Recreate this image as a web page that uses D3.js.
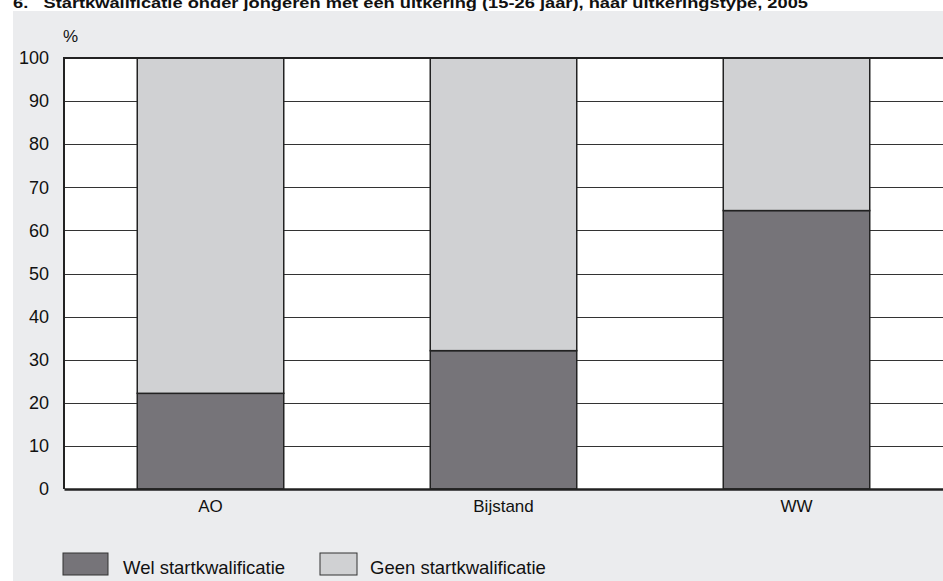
<!DOCTYPE html>
<html><head><meta charset="utf-8">
<script src="https://cdn.jsdelivr.net/npm/d3@7"></script>
<style>html,body{margin:0;padding:0;background:#fff;}svg{display:block;}</style>
</head><body>
<svg id="c" width="943" height="581"></svg>
<script>
const categories = ["AO", "Bijstand", "WW"];
const welValues = [22.2, 32.1, 64.6];
const geenValues = [77.8, 67.9, 35.4];
const yTicks = [0, 10, 20, 30, 40, 50, 60, 70, 80, 90, 100];
const seriesNames = ["Wel startkwalificatie", "Geen startkwalificatie"];
const seriesColors = ["#767479", "#d0d1d3"];
const titleText = "6.\u00a0\u00a0\u00a0Startkwalificatie onder jongeren met een uitkering (15-26 jaar), naar uitkeringstype, 2005";

(function () {
const svg = d3.select("#c");
const font = "Arial, 'Liberation Sans', Helvetica, sans-serif";

// background
svg.append("rect").attr("x", 13).attr("y", 11).attr("width", 930).attr("height", 570).attr("fill", "#ebecee");

// title (cut off at top, as in the reference)
svg.append("text").attr("x", 13).attr("y", 7.5)
  .attr("font-family", font).attr("font-weight", "bold").attr("font-size", 15)
  .attr("textLength", 795).attr("lengthAdjust", "spacingAndGlyphs")
  .attr("fill", "#111").text(titleText);

const pL = 64, pR = 943, pT = 58, pB = 489;
const x = d3.scaleBand().domain(categories).range([pL, pR]).paddingInner(0.5).paddingOuter(0.25);
const y = d3.scaleLinear().domain([0, 100]).range([pB, pT]);

// plot area
svg.append("rect").attr("x", pL).attr("y", pT).attr("width", pR - pL).attr("height", pB - pT).attr("fill", "#fff");

// gridlines
svg.append("g").selectAll("line").data(yTicks.filter(d => d > 0 && d < 100)).join("line")
  .attr("x1", pL).attr("x2", pR)
  .attr("y1", d => Math.round(y(d)) + 0.5).attr("y2", d => Math.round(y(d)) + 0.5)
  .attr("stroke", "#333").attr("stroke-width", 1.2);

// stacked bars
const rows = categories.map((c, i) => ({cat: c, wel: welValues[i], geen: geenValues[i]}));
const stack = d3.stack().keys(["wel", "geen"])(rows);
svg.append("g").selectAll("g").data(stack).join("g")
  .attr("fill", (d, i) => seriesColors[i])
  .selectAll("rect").data(d => d).join("rect")
  .attr("x", d => x(d.data.cat)).attr("width", x.bandwidth())
  .attr("y", d => y(d[1])).attr("height", d => y(d[0]) - y(d[1]))
  .attr("stroke", "#222").attr("stroke-width", 1.5);

// border lines
svg.append("line").attr("x1", pL).attr("x2", pR).attr("y1", pT).attr("y2", pT).attr("stroke", "#222").attr("stroke-width", 2);
svg.append("line").attr("x1", pL).attr("x2", pL).attr("y1", pT - 1).attr("y2", pB).attr("stroke", "#222").attr("stroke-width", 2);

// y axis labels
const yAxis = d3.axisLeft(y).tickValues(yTicks).tickSize(0).tickPadding(15);
const gy = svg.append("g").attr("transform", `translate(${pL},0)`).call(yAxis);
gy.select(".domain").remove();
gy.selectAll("text").attr("font-family", font).attr("font-size", 18).attr("fill", "#111");

// x axis
const xAxis = d3.axisBottom(x).tickSize(0).tickPadding(11);
const gx = svg.append("g").attr("transform", `translate(0,${pB})`).call(xAxis);
gx.select(".domain").attr("stroke", "#222").attr("stroke-width", 2.5);
gx.selectAll("text").attr("font-family", font).attr("font-size", 17).attr("fill", "#111");

// % unit
svg.append("text").attr("x", 63).attr("y", 42).attr("font-family", font).attr("font-size", 17).attr("fill", "#111").text("%");

// legend
const legX = [63, 320];
const lg = svg.append("g").selectAll("g").data(seriesNames).join("g")
  .attr("transform", (d, i) => `translate(${legX[i]},553)`);
lg.append("rect").attr("width", (d, i) => i === 0 ? 45 : 37).attr("height", 22)
  .attr("fill", (d, i) => seriesColors[i]).attr("stroke", "#333").attr("stroke-width", 1);
lg.append("text").attr("x", (d, i) => i === 0 ? 60 : 50).attr("y", 21)
  .attr("font-family", font).attr("font-size", 18.5).attr("fill", "#111").text(d => d);
})();
</script>
</body></html>
